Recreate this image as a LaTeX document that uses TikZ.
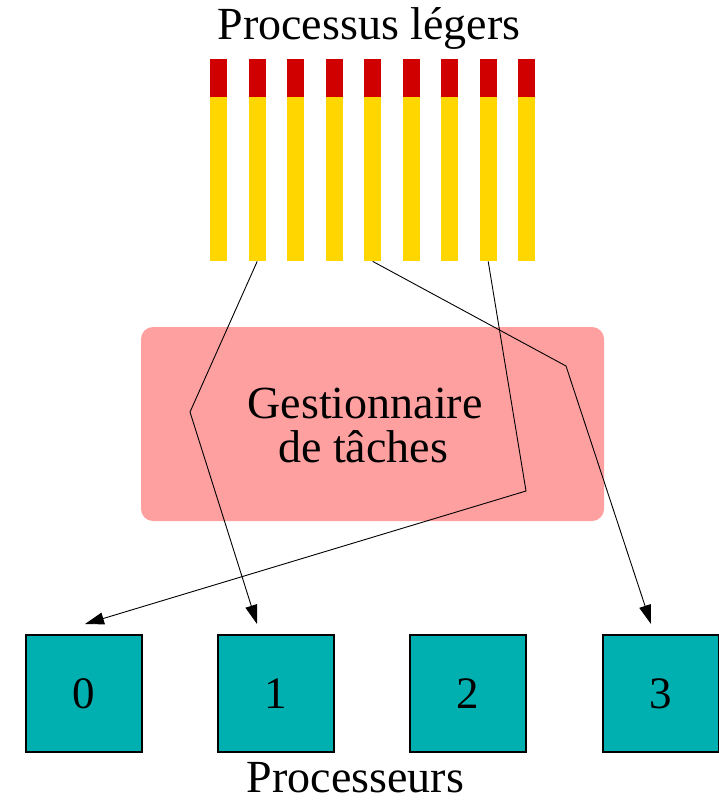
\documentclass[tikz,border=0pt]{standalone}
\usepackage{fontspec}
\setmainfont{Liberation Serif}
\usetikzlibrary{arrows.meta}
\definecolor{barred}{RGB}{208,0,0}
\definecolor{baryellow}{RGB}{255,214,0}
\definecolor{gpink}{RGB}{255,160,160}
\definecolor{pteal}{RGB}{0,176,176}
\begin{document}
\begin{tikzpicture}[x=1pt,y=-1pt,
  bigtext/.style={font=\fontsize{46}{44}\selectfont, inner sep=0pt},
  threadbody/.style={fill=baryellow, draw=none, minimum width=17pt, minimum height=164pt, inner sep=0pt, anchor=north west},
  threadhead/.style={fill=barred, draw=none, minimum width=17pt, minimum height=38.3pt, inner sep=0pt, anchor=north west},
  procbox/.style={fill=pteal, draw=black, line width=1.3pt, minimum width=116pt, minimum height=117pt, inner sep=0pt, font=\fontsize{45}{44}\selectfont},
  conn/.style={draw=black, line width=0.9pt, -{Triangle[length=19pt,width=12pt]}}
]
\useasboundingbox (0,0) rectangle (719,802);
% title
\node[bigtext, anchor=base] (title) at (369,40) {Processus légers};
% threads
\foreach \i in {1,...,9} {
  \pgfmathsetmacro{\xx}{210+38.5*(\i-1)}
  \node[threadhead] (h\i) at (\xx,58.7) {};
  \node[threadbody] (t\i) at (\xx,97) {};
}
% scheduler
\node[fill=gpink, draw=none, rounded corners=12pt, minimum width=463pt, minimum height=194pt, inner sep=0pt] (g) at (372.5,424) {};
\node[bigtext, anchor=base] (g1) at (365,418) {Gestionnaire};
\node[bigtext, anchor=base] (g2) at (363,462) {de tâches};
% processors
\node[procbox] (p0) at (84,693.5) {0};
\node[procbox] (p1) at (276,693.5) {1};
\node[procbox] (p2) at (468,693.5) {2};
\node[procbox] (p3) at (661,693.5) {3};
\node[bigtext, anchor=base] (plabel) at (355.5,792) {Processeurs};
% bend points and arrow ends
\coordinate (b1) at (190,412);
\coordinate (b2) at (566,366);
\coordinate (b3) at (526,491);
\coordinate (e1) at (257,624);
\coordinate (e3) at (651,624);
\coordinate (e0) at (85,624);
\draw[conn] (t2.south) -- (b1) -- (e1);
\draw[conn] (t5.south) -- (b2) -- (e3);
\draw[conn] (t8.south) -- (b3) -- (e0);
\end{tikzpicture}
\end{document}
